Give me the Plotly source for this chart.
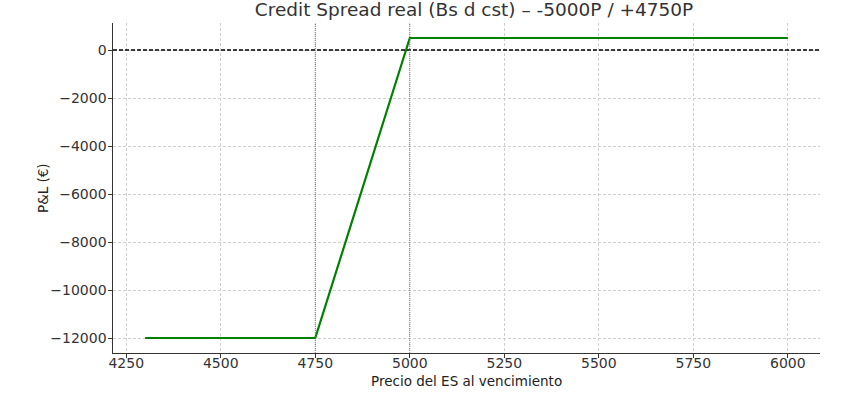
import plotly.graph_objects as go

price = [4300, 4750, 5000, 6000]
pnl = [-12000, -12000, 500, 500]
strikes = [4750, 5000]
x_ticks = [4250, 4500, 4750, 5000, 5250, 5500, 5750, 6000]
y_ticks = [0, -2000, -4000, -6000, -8000, -10000, -12000]
y_labels = ["0", "\u22122000", "\u22124000", "\u22126000", "\u22128000", "\u221210000", "\u221212000"]
title = "Credit Spread real (Bs d cst) \u2013 -5000P / +4750P"
x_title = "Precio del ES al vencimiento"
y_title = "P&L (\u20ac)"

xr = [4215, 6085]
yr = [-12625, 1125]

fig = go.Figure()
fig.add_trace(go.Scatter(x=price, y=pnl, mode="lines",
                         line=dict(color="#008000", width=2.2), showlegend=False))

fig.add_shape(type="line", xref="x", yref="y", x0=xr[0], x1=xr[1], y0=0, y1=0,
              line=dict(color="black", width=1.3, dash="4px,2px"))
for s in strikes:
    fig.add_shape(type="line", xref="x", yref="paper", x0=s, x1=s, y0=0, y1=1,
                  line=dict(color="#777777", width=1, dash="1px,1px"))

axis_common = dict(showline=True, linecolor="#333333", linewidth=1.2,
                   ticks="outside", ticklen=3.5, tickcolor="#333333",
                   showgrid=True, gridcolor="#cfcfcf", griddash="3px,2px", gridwidth=0.7,
                   zeroline=False, automargin=False,
                   tickfont=dict(size=14, color="#333333"))

fig.update_xaxes(range=xr, tickvals=x_ticks, ticktext=[str(v) for v in x_ticks],
                 ticklabelstandoff=-6, **axis_common)
fig.update_yaxes(range=yr, tickvals=y_ticks, ticktext=y_labels,
                 ticklabelstandoff=-1, **axis_common)

fig.add_annotation(text=x_title, xref="paper", yref="paper", x=0.5, y=0,
                   yshift=-28, xanchor="center", yanchor="middle", showarrow=False,
                   font=dict(size=13.5, color="#222222"))
fig.add_annotation(text=y_title, xref="paper", yref="paper", x=0, y=0.5,
                   xshift=-70, xanchor="center", yanchor="middle", showarrow=False,
                   textangle=-90, font=dict(size=13.5, color="#222222"))

fig.update_layout(
    width=853, height=398,
    margin=dict(l=113, r=33, t=23, b=45),
    plot_bgcolor="white", paper_bgcolor="white",
    font=dict(family="DejaVu Sans", color="#333333"),
    title=dict(text=title, x=0.5557, xanchor="center", y=0.975, yanchor="middle",
               font=dict(size=18.5, color="#333333")),
)

fig.write_html("out.html")
